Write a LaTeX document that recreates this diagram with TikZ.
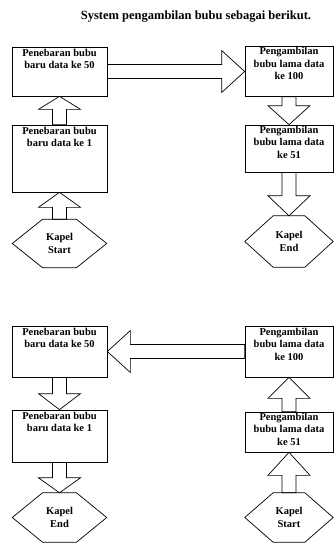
\documentclass[tikz,border=0pt]{standalone}
\usepackage{fontspec}
\setmainfont{Liberation Serif}
\usetikzlibrary{calc,positioning}

% block arrow from #2 to #3, #1 = head length
\newcommand{\fatarrow}[3][16pt]{%
  \coordinate (hb) at ($(#3)!#1!(#2)$);
  \draw[fat] ($(#2)!7pt!90:(#3)$) -- ($(hb)!7pt!90:(#3)$) -- ($(hb)!21pt!90:(#3)$)
    -- (#3) -- ($(hb)!21pt!-90:(#3)$) -- ($(hb)!7pt!-90:(#3)$) -- ($(#2)!7pt!-90:(#3)$) -- cycle;}
% hexagon round a node
\newcommand{\hexborder}[1]{%
  \draw[fat] (#1.west) -- ($(#1.north west)!.32!(#1.north east)$) -- ($(#1.north west)!.68!(#1.north east)$)
    -- (#1.east) -- ($(#1.south west)!.68!(#1.south east)$) -- ($(#1.south west)!.32!(#1.south east)$) -- cycle;}

\begin{document}
\begin{tikzpicture}[x=1pt, y={(0pt,-1pt)},
  box/.style={draw, line width=0.7pt, minimum width=95pt, inner sep=0pt},
  rbox/.style={box, minimum width=88pt},
  txt/.style={align=center, inner sep=1pt, font=\bfseries\fontsize{10.5}{12.5}\selectfont},
  hexa/.style={minimum width=94pt, minimum height=48pt, inner sep=0pt, align=center, font=\bfseries\fontsize{10.5}{13}\selectfont},
  fat/.style={line width=0.7pt, line join=miter}
]
  \useasboundingbox (0,0) rectangle (334,544);
  \node[font=\bfseries\fontsize{12.5}{14}\selectfont] (title) at (196,17) {System pengambilan bubu sebagai berikut.};

  % upper scheme
  \node[box, minimum height=49pt] (tebar50) at (59.5,71.5) {};
  \node[txt, below=1pt of tebar50.north] (tebar50t) {Penebaran bubu\\baru data ke 50};
  \node[box, minimum height=67pt] (tebar1) at (59.5,158.5) {};
  \node[txt, below=1pt of tebar1.north] (tebar1t) {Penebaran bubu\\baru data ke 1};
  \node[hexa] (start) at (59.5,243.5) {Kapel\\Start};
  \hexborder{start}

  \node[rbox, minimum height=50pt] (ambil100) at (289,71.5) {};
  \node[txt, below=0pt of ambil100.north] (ambil100t) {Pengambilan\\bubu lama data\\ke 100};
  \node[rbox, minimum height=47pt] (ambil51) at (289,148.5) {};
  \node[txt, below=0pt of ambil51.north] (ambil51t) {Pengambilan\\bubu lama data\\ke 51};
  \node[hexa, minimum width=88pt, minimum height=51pt] (end) at (289,241.5) {Kapel\\End};
  \hexborder{end}

  \fatarrow[23pt]{tebar50.east}{ambil100.west}
  \fatarrow[13pt]{tebar1.north}{tebar50.south}
  \fatarrow[15pt]{start.north}{tebar1.south}
  \fatarrow[19pt]{ambil100.south}{ambil51.north}
  \fatarrow[20pt]{ambil51.south}{end.north}

  % lower scheme
  \node[box, minimum height=51pt] (tebar50b) at (59.5,351.5) {};
  \node[txt, below=1pt of tebar50b.north] (tebar50bt) {Penebaran bubu\\baru data ke 50};
  \node[box, minimum height=52pt] (tebar1b) at (59.5,436) {};
  \node[txt, below=1pt of tebar1b.north] (tebar1bt) {Penebaran bubu\\baru data ke 1};
  \node[hexa, minimum height=49pt] (endb) at (59.5,517.5) {Kapel\\End};
  \hexborder{endb}

  \node[rbox, minimum height=51pt] (ambil100b) at (289,351.5) {};
  \node[txt, below=1pt of ambil100b.north] (ambil100bt) {Pengambilan\\bubu lama data\\ke 100};
  \node[rbox, minimum height=40pt] (ambil51b) at (289,432) {};
  \node[txt, below=0pt of ambil51b.north] (ambil51bt) {Pengambilan\\bubu lama data\\ke 51};
  \node[hexa, minimum width=88pt, minimum height=49pt] (startb) at (289,517.5) {Kapel\\Start};
  \hexborder{startb}

  \fatarrow[23pt]{ambil100b.west}{tebar50b.east}
  \fatarrow[16pt]{tebar50b.south}{tebar1b.north}
  \fatarrow[15pt]{tebar1b.south}{endb.north}
  \fatarrow[21pt]{ambil51b.north}{ambil100b.south}
  \fatarrow[23pt]{startb.north}{ambil51b.south}
\end{tikzpicture}
\end{document}
